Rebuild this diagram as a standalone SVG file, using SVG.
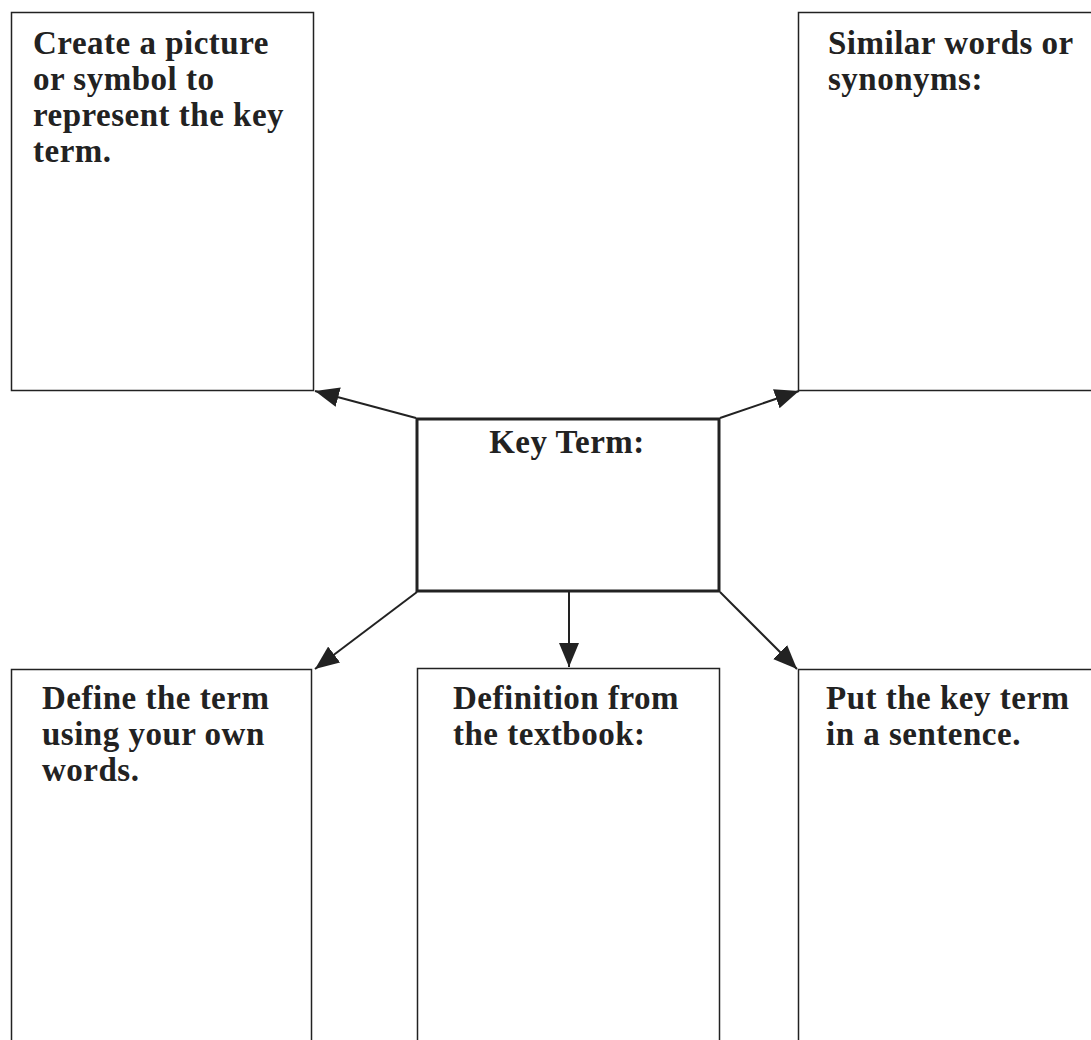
<svg xmlns="http://www.w3.org/2000/svg" width="1091" height="1040" viewBox="0 0 1091 1040">
<style>
.box{fill:#fff;stroke:#222;stroke-width:1.5}
.kbox{fill:#fff;stroke:#222;stroke-width:3}
.t{font-family:"Liberation Serif","Times New Roman",serif;font-weight:bold;font-size:33px;letter-spacing:0.5px;fill:#222}
.c{fill:none;stroke:#222;stroke-width:2}
</style>
<defs>
<marker id="a" viewBox="0 0 24 20" refX="24" refY="10" markerWidth="24" markerHeight="20" markerUnits="userSpaceOnUse" orient="auto">
<path d="M0,0 L24,10 L0,20 z" fill="#222"/>
</marker>
</defs>
<rect width="1091" height="1040" fill="#fff"/>
<g id="connectors">
<line class="c" x1="416" y1="418" x2="315" y2="391" marker-end="url(#a)"/>
<line class="c" x1="720" y1="418" x2="799" y2="391" marker-end="url(#a)"/>
<line class="c" x1="417" y1="592" x2="315" y2="669" marker-end="url(#a)"/>
<line class="c" x1="569" y1="592" x2="569" y2="667" marker-end="url(#a)"/>
<line class="c" x1="720" y1="592" x2="797" y2="669" marker-end="url(#a)"/>
</g>
<g id="picture">
<rect class="box" x="11.5" y="12.5" width="302" height="378"/>
<text class="t"><tspan x="33" y="54">Create a picture</tspan><tspan x="33" y="90">or symbol to</tspan><tspan x="33" y="126">represent the key</tspan><tspan x="33" y="162">term.</tspan></text>
</g>
<g id="synonyms">
<rect class="box" x="798.5" y="12.5" width="300" height="378"/>
<text class="t"><tspan x="828" y="54">Similar words or</tspan><tspan x="828" y="90">synonyms:</tspan></text>
</g>
<g id="keyterm">
<rect class="kbox" x="417" y="419" width="302" height="172"/>
<text class="t" x="567" y="453" text-anchor="middle">Key Term:</text>
</g>
<g id="own-words">
<rect class="box" x="11.5" y="669.5" width="300" height="400"/>
<text class="t"><tspan x="42" y="709">Define the term</tspan><tspan x="42" y="745">using your own</tspan><tspan x="42" y="781">words.</tspan></text>
</g>
<g id="textbook">
<rect class="box" x="417.5" y="668.5" width="302" height="400"/>
<text class="t"><tspan x="453" y="709">Definition from</tspan><tspan x="453" y="745">the textbook:</tspan></text>
</g>
<g id="sentence">
<rect class="box" x="798.5" y="669.5" width="300" height="400"/>
<text class="t"><tspan x="826" y="709">Put the key term</tspan><tspan x="826" y="745">in a sentence.</tspan></text>
</g>
</svg>
